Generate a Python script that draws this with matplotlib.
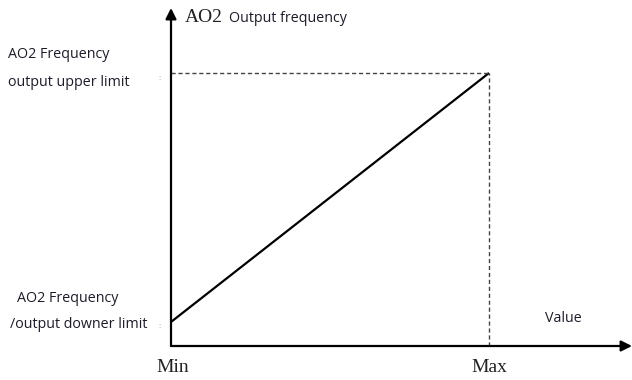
import matplotlib
matplotlib.use("Agg")
import matplotlib.pyplot as plt

# diagram values (relative units)
value_range = [0.0, 1.0]          # Min .. Max
output_range = [0.088, 1.0]       # downer limit .. upper limit
x_ticks = ["Min", "Max"]
y_labels_upper = ["AO2 Frequency", "output upper limit"]
y_labels_lower = ["AO2 Frequency", "/output downer limit"]

fig = plt.figure(figsize=(6.32, 3.80), dpi=100)
ax = fig.add_axes([0, 0, 1, 1])
# pixel -> data scale: origin at (171, 346), x unit 318 px, y unit 273 px
ax.set_xlim(-171 / 318, 461 / 318)
ax.set_ylim(-34 / 273, 346 / 273)
ax.axis("off")

# axes arrows
arrow = dict(arrowstyle="-|>", color="black", lw=1.6, mutation_scale=16, shrinkA=0, shrinkB=0)
ax.annotate("", xy=(0, 338 / 273), xytext=(0, 0), arrowprops=arrow)
ax.annotate("", xy=(461 / 318, 0), xytext=(0, 0), arrowprops=arrow)

# output line
ax.plot(value_range, output_range, color="black", lw=1.6, solid_capstyle="butt")

# dashed guides
ax.plot([0, value_range[1]], [output_range[1], output_range[1]], color="#444444",
        lw=1.0, ls=(0, (3, 2)))
ax.plot([value_range[1], value_range[1]], [0, output_range[1]], color="#444444",
        lw=1.0, ls=(0, (3, 2)))

sans = ["Open Sans", "DejaVu Sans"]
serif = ["Liberation Serif", "DejaVu Serif"]
fs = 10.3
tc = "#1c1c28"

ax.text(-163 / 318, (346 - 55) / 273, y_labels_upper[0], family=sans, fontsize=fs, color=tc, va="center")
ax.text(-163 / 318, (346 - 82) / 273, y_labels_upper[1], family=sans, fontsize=fs, color=tc, va="center")
ax.text(-13 / 318, (346 - 78) / 273, ":", family=sans, fontsize=6, color="#999999", va="center")
ax.text(-154 / 318, (346 - 298) / 273, y_labels_lower[0], family=sans, fontsize=fs, color=tc, va="center")
ax.text(-161 / 318, (346 - 325) / 273, y_labels_lower[1], family=sans, fontsize=fs, color=tc, va="center")
ax.text(-13 / 318, (346 - 327) / 273, ":", family=sans, fontsize=6, color="#999999", va="center")

ax.text(14 / 318, (346 - 17) / 273, "AO2", family=serif, fontsize=14, color="#222222", va="center")
ax.text(58 / 318, (346 - 18) / 273, "Output frequency", family=sans, fontsize=fs, color=tc, va="center")
ax.text(374 / 318, (346 - 318) / 273, "Value", family=sans, fontsize=fs, color=tc, va="center")

ax.text(2 / 318, (346 - 367) / 273, x_ticks[0], family=serif, fontsize=14, color="#222222",
        ha="center", va="center")
ax.text(value_range[1], (346 - 367) / 273, x_ticks[1], family=serif, fontsize=14, color="#222222",
        ha="center", va="center")

fig.savefig("out.png", dpi=100)
